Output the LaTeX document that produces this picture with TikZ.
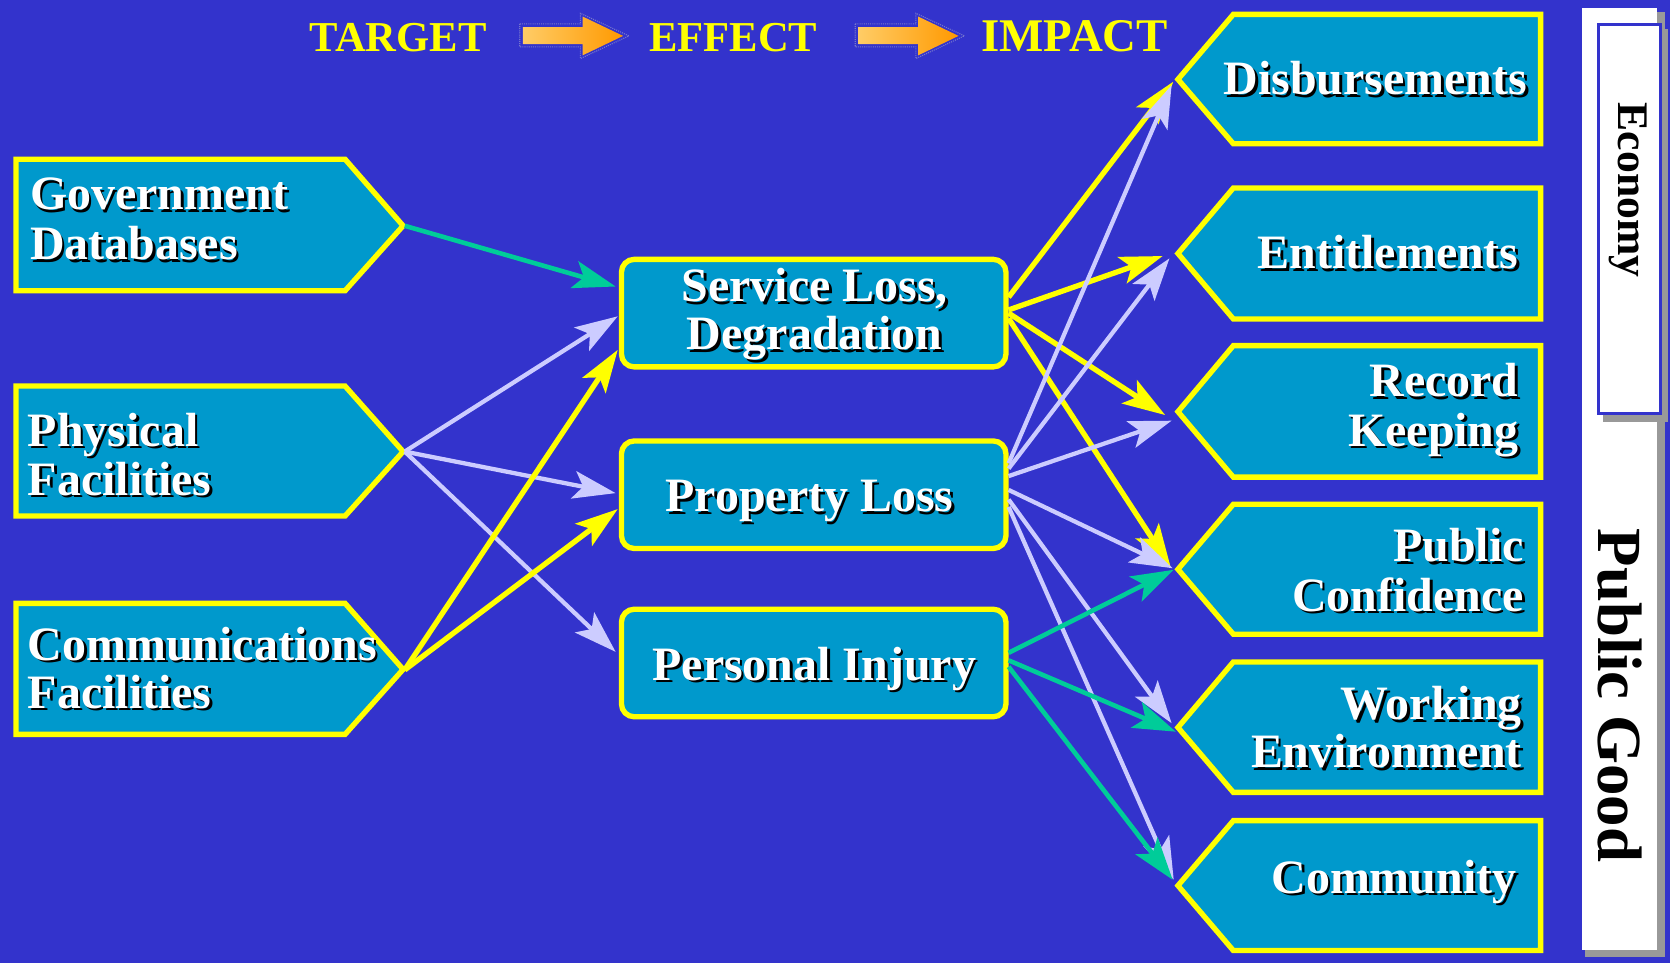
\documentclass[tikz,border=0pt]{standalone}
\usepackage{fontspec}
\setmainfont{Liberation Serif}
\usetikzlibrary{arrows.meta,calc}
\definecolor{bg}{HTML}{3333CC}
\definecolor{boxfill}{HTML}{0099CC}
\definecolor{yel}{HTML}{FFFF00}
\definecolor{grn}{HTML}{00CC99}
\definecolor{lav}{HTML}{CCCCFF}
\definecolor{shd}{HTML}{999999}
\definecolor{orL}{HTML}{FFCC66}
\definecolor{orD}{HTML}{FF9900}
\definecolor{dotc}{HTML}{7777CC}
\newcommand{\stl}[5]{%
  \node[lbl,text=black,anchor=#4] at (#2+2.5,#3+2.5) {#5};
  \node[lbl,text=white,anchor=#4] (#1) at (#2,#3) {#5};}
\begin{document}
\begin{tikzpicture}[x=1pt,y=-1pt,
  lbl/.style={inner sep=0pt, font=\fontsize{45}{46}\selectfont\bfseries},
  hdr/.style={inner sep=0pt, text=yel, anchor=base, font=\fontsize{40}{40}\selectfont\bfseries},
  pent/.style={fill=boxfill, draw=yel, line width=5pt, line join=miter},
  mid/.style={fill=boxfill, draw=yel, line width=5pt, rounded corners=12pt, minimum width=361pt, minimum height=101pt, inner sep=0pt},
  tipstyle/.style={-{Stealth[length=40pt,width=26pt,inset=9pt]}},
  yarr/.style={draw=yel, line width=5pt, tipstyle},
  larr/.style={draw=lav, line width=4pt, tipstyle},
  garr/.style={draw=grn, line width=4.3pt, tipstyle},
  harrow/.style={left color=orL, right color=orD},
  hdot/.style={draw=dotc, densely dotted, line width=1pt},
]
\useasboundingbox (0,0) rectangle (1568,904);
\fill[bg] (0,0) rectangle (1568,904);

% right panel
\fill[shd] (1488,11) rectangle (1563,899);
\fill[white] (1485.3,7.8) rectangle (1555.7,892);
\fill[shd] (1505,27) rectangle (1566.5,396);
\filldraw[fill=white, draw=bg, line width=2.8pt] (1500.7,23.3) rectangle (1559,388.3);
\node[rotate=-90, anchor=base, inner sep=0pt, font=\fontsize{41}{41}\selectfont\bfseries] (eco) at (1520,178.5) {Economy};
\node[rotate=-90, anchor=base, inner sep=0pt, font=\fontsize{59}{59}\selectfont\bfseries] (pgood) at (1501,653) {Public Good};

% header
\node[hdr] (tgt) at (374,48.5) {TARGET};
\node[hdr] (eff) at (688.5,48.5) {EFFECT};
\node[hdr, font=\fontsize{44}{44}\selectfont\bfseries] (imp) at (1009,48.5) {IMPACT};
\foreach \dx in {0,315} {
  \begin{scope}[xshift=\dx pt]
    \shade[harrow] (491,25.5) -- (547,25.5) -- (547,15.5) -- (585,33.7) -- (547,52) -- (547,41.5) -- (491,41.5) -- cycle;
    \draw[hdot] (488,22.5) -- (545,22.5) -- (545,12.5) -- (590.5,33.7) -- (545,55) -- (545,44) -- (488,44) -- cycle;
  \end{scope}
}

% left boxes
\path[pent] (15,149.5) -- (324,149.5) -- (378.5,212) -- (324,273) -- (15,273) -- cycle;
\path[pent] (15,362.5) -- (324,362.5) -- (378.5,424) -- (324,484.5) -- (15,484.5) -- cycle;
\path[pent] (15,566.5) -- (324,566.5) -- (378.5,628.5) -- (324,689.5) -- (15,689.5) -- cycle;
\coordinate (govt) at (380,212);
\coordinate (phyt) at (380,424);
\coordinate (comt) at (380,629);

% middle boxes
\node[mid] (svc) at (764,294) {};
\node[mid] (prop) at (764,464.5) {};
\node[mid] (pinj) at (764,622.5) {};

% right boxes
\foreach \t/\m/\b in {13.5/74.5/135, 176.5/238/299.5, 324.5/386.5/448, 473.5/534.5/595.5, 621.5/683/744, 770.5/831.5/892.5}
  \path[pent] (1446.5,\t) -- (1158,\t) -- (1106,\m) -- (1158,\b) -- (1446.5,\b) -- cycle;
\coordinate (disb) at (1104,74.5);
\coordinate (ent) at (1104,238);
\coordinate (rec) at (1104,386.5);
\coordinate (pub) at (1104,534.5);
\coordinate (work) at (1104,683);
\coordinate (comm) at (1104,831.5);

% connectors left
\draw[garr] (govt) -- ($(svc.west)+(-3,-25)$);
\draw[larr] (phyt) -- ($(svc.west)+(-1,3)$);
\draw[larr] (phyt) -- ($(prop.west)+(-3,-1.5)$);
\draw[larr] (phyt) -- ($(pinj.west)+(-3,-10.5)$);
\draw[yarr] (comt) -- ($(svc.west)+(-1,34.5)$);
\draw[yarr] (comt) -- ($(prop.west)+(-1,13.5)$);

% connectors right
\draw[yarr] ($(svc.east)+(0,-15)$) -- ($(disb)+(-2.4,2.2)$);
\draw[yarr] ($(svc.east)+(0,-3)$) -- ($(ent)+(-12.4,2.4)$);
\draw[yarr] ($(svc.east)+(0,0)$) -- ($(rec)+(-10,3.2)$);
\draw[yarr] ($(svc.east)+(0,5)$) -- ($(pub)+(-5,-2.5)$);
\draw[larr] ($(prop.east)+(0,-29.5)$) -- ($(disb)+(-4,5.5)$);
\draw[larr] ($(prop.east)+(0,-24.5)$) -- ($(ent)+(-6,4.6)$);
\draw[larr] ($(prop.east)+(0,-17.5)$) -- ($(rec)+(-4,8.5)$);
\draw[larr] ($(prop.east)+(0,-4.5)$) -- ($(pub)+(-3,-1)$);
\draw[larr] ($(prop.east)+(0,4.5)$) -- ($(work)+(-4,-4)$);
\draw[larr] ($(prop.east)+(0,11.5)$) -- ($(comm)+(-2,-5.5)$);
\draw[garr] ($(pinj.east)+(0,-9.5)$) -- ($(pub)+(-2,0.5)$);
\draw[garr] ($(pinj.east)+(0,-2.5)$) -- ($(work)+(0,4)$);
\draw[garr] ($(pinj.east)+(0,3.5)$) -- ($(comm)+(-3,-5.5)$);

% texts
\stl{gov1}{28}{197}{base west}{Government}
\stl{gov2}{28}{243.5}{base west}{Databases}
\stl{phy1}{26}{419}{base west}{Physical}
\stl{phy2}{26}{465}{base west}{Facilities}
\stl{com1}{26}{619.7}{base west}{Communications}
\stl{com2}{26}{665}{base west}{Facilities}
\stl{svc1}{765}{283}{base}{Service Loss,}
\stl{svc2}{765}{328.6}{base}{Degradation}
\stl{prop1}{760}{480.5}{base}{Property Loss}
\stl{pinj1}{764.5}{638.5}{base}{Personal Injury}
\stl{disb1}{1434}{89}{base east}{Disbursements}
\stl{ent1}{1426}{252}{base east}{Entitlements}
\stl{rec1}{1426}{372.5}{base east}{Record}
\stl{rec2}{1426}{419}{base east}{Keeping}
\stl{pub1}{1431}{527.4}{base east}{Public}
\stl{pub2}{1431}{573.7}{base east}{Confidence}
\stl{work1}{1429}{676}{base east}{Working}
\stl{work2}{1429}{721}{base east}{Environment}
\stl{comm1}{1424}{838.6}{base east}{Community}
\end{tikzpicture}
\end{document}
